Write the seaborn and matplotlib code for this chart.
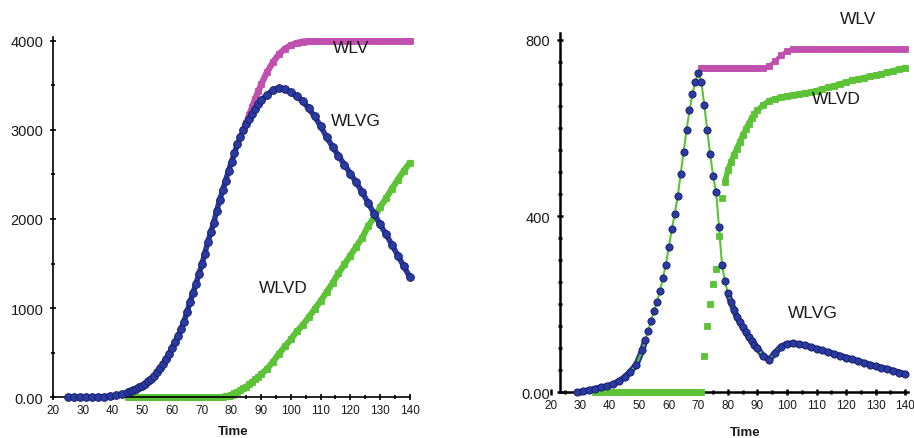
import matplotlib
matplotlib.use("Agg")
import numpy as np
import pandas as pd
import matplotlib.pyplot as plt
import seaborn as sns

nan = np.nan

# ---- left panel: time grid and series ----
t_left = [25, 27, 29, 31, 33, 35, 37, 39, 41, 43, 45,
          46, 47, 48, 49, 50, 51, 52, 53, 54, 55, 56, 57, 58, 59, 60,
          61, 62, 63, 64, 65, 66, 67, 68, 69, 70, 71, 72, 73, 74, 75,
          76, 77, 78, 79, 80, 81, 82, 83, 84, 85, 86, 87, 88, 89, 90,
          92, 94, 96, 98, 100, 102, 104, 106, 108, 110, 112, 114, 116,
          118, 120, 122, 124, 126, 128, 130, 132, 134, 136, 138, 140]

wlvg_left = [0, 0, 0, 0, 2, 3, 5, 12, 22, 35, 55,
             68, 80, 95, 112, 130, 152, 178, 208, 240, 280, 325, 375, 430, 490, 555,
             620, 690, 765, 850, 955, 1065, 1170, 1270, 1380, 1490, 1610, 1740, 1850, 1960, 2090,
             2210, 2320, 2430, 2540, 2640, 2740, 2840, 2920, 3000, 3060, 3120, 3180, 3235, 3290, 3330,
             3395, 3445, 3470, 3455, 3420, 3375, 3320, 3240, 3150, 3040, 2920, 2810, 2710,
             2610, 2510, 2410, 2300, 2180, 2060, 1940, 1830, 1710, 1590, 1470, 1350]

wlvd_left = [nan, nan, nan, nan, nan, nan, nan, nan, nan, nan, 0,
             0, 0, 0, 0, 0, 0, 0, 0, 0, 0, 0, 0, 0, 0, 0,
             0, 0, 0, 0, 0, 0, 0, 0, 0, 0, 0, 0, 0, 0, 0,
             0, 0, 10, 20, 30, 45, 60, 80, 100, 120, 145, 170, 200, 230, 260,
             320, 400, 490, 570, 650, 740, 810, 900, 990, 1080, 1180, 1280, 1390,
             1490, 1590, 1690, 1790, 1920, 2020, 2130, 2230, 2340, 2440, 2540, 2630]

wlv_left = [nan, nan, nan, nan, nan, nan, nan, nan, nan, nan, nan,
            nan, nan, nan, nan, nan, nan, nan, nan, nan, nan, nan, nan, nan, nan, nan,
            nan, nan, nan, nan, nan, nan, nan, nan, nan, nan, nan, nan, nan, nan, nan,
            nan, nan, nan, nan, nan, nan, nan, nan, 3000, 3080, 3170, 3260, 3350, 3430, 3510,
            3650, 3760, 3850, 3910, 3950, 3975, 3990, 3995, 3995, 3995, 3995, 3995, 3995,
            3995, 3995, 3995, 3995, 3995, 3995, 3995, 3995, 3995, 3995, 3995, 3995]

# ---- right panel ----
t_right = [29, 31, 33, 35, 37, 39, 41, 43, 45, 47, 49, 51,
           52, 53, 54, 55, 56, 57, 58, 59, 60, 61, 62, 63, 64, 65, 66, 67, 68, 69, 70,
           71, 72, 73, 74, 75, 76, 77, 78, 79, 80, 81, 82, 83, 84, 85, 86, 87, 88, 89, 90,
           92, 94, 96, 98, 100, 102, 104, 106, 108, 110, 112, 114, 116,
           118, 120, 122, 124, 126, 128, 130, 132, 134, 136, 138, 140]

wlvg_right = [0, 2, 5, 8, 11, 14, 18, 25, 34, 47, 63, 95,
              118, 140, 162, 185, 205, 230, 260, 290, 330, 370, 405, 445, 495, 545, 595, 640, 678, 705, 725,
              705, 652, 595, 540, 492, 455, 375, 290, 252, 225, 205, 188, 172, 160, 148, 137, 126, 116, 108, 100,
              82, 74, 90, 104, 110, 111, 109, 107, 103, 99, 95, 91, 87,
              83, 79, 75, 71, 67, 63, 59, 56, 53, 49, 45, 41]

wlvd_right = [nan, nan, nan, 0, 0, 0, 0, 0, 0, 0, 0, 0,
              0, 0, 0, 0, 0, 0, 0, 0, 0, 0, 0, 0, 0, 0, 0, 0, 0, 0, 0,
              0, 83, 150, 200, 246, 280, 355, 442, 478, 505, 522, 538, 553, 568, 583, 597, 610, 622, 632, 640,
              652, 662, 666, 670, 673, 675, 677, 679, 682, 685, 688, 692, 696,
              700, 704, 708, 711, 714, 717, 720, 723, 726, 730, 733, 737]

wlv_right = [nan, nan, nan, nan, nan, nan, nan, nan, nan, nan, nan, nan,
             nan, nan, nan, nan, nan, nan, nan, nan, nan, nan, nan, nan, nan, nan, nan, nan, nan, nan, nan,
             735, 735, 735, 735, 735, 735, 735, 735, 735, 735, 735, 735, 735, 735, 735, 735, 735, 735, 735, 735,
             735, 740, 752, 765, 774, 779, 780, 780, 780, 780, 780, 780, 780,
             780, 780, 780, 780, 780, 780, 780, 780, 780, 780, 780, 780]

BLUE = "#2a3aa0"
BLUE_EDGE = "#151d62"
MAGENTA = "#c04fae"
GREEN = "#5cc236"


def draw_series(ax, t, v, color, marker, ms, line_color=None, lw=0.0, edge=None, z=2):
    df = pd.DataFrame({"Time": t, "value": v}).dropna()
    sns.lineplot(data=df, x="Time", y="value", ax=ax, estimator=None, sort=False,
                 color=line_color or color, linewidth=lw, marker=marker, markersize=ms,
                 markerfacecolor=color, markeredgecolor=edge or color,
                 markeredgewidth=0.6, clip_on=False, zorder=z)
    return df


def draw_band(ax, df, color, lw, z=2):
    # plain line (no markers) under part of a series, to make the band solid
    sns.lineplot(data=df, x="Time", y="value", ax=ax, estimator=None, sort=False,
                 color=color, linewidth=lw, clip_on=False, zorder=z)


def style_axis(ax, spine_w):
    for side in ["top", "right"]:
        ax.spines[side].set_visible(False)
    for side in ["left", "bottom"]:
        ax.spines[side].set_color("black")
        ax.spines[side].set_linewidth(spine_w)
    ax.tick_params(which="both", bottom=True, left=True, direction="inout",
                   color="black", width=spine_w)
    ax.tick_params(which="major", length=4)
    ax.tick_params(which="minor", length=3)
    ax.tick_params(axis="x", labelsize=8.5, labelcolor="#1a1a1a")
    ax.tick_params(axis="y", labelsize=10.5, pad=5, labelcolor="#1a1a1a")
    ax.set_ylabel("")
    ax.set_xlabel("Time", fontsize=9.5, fontweight="bold", color="#1a1a1a")


sns.set_style("white")
plt.rcParams["font.family"] = ["Liberation Sans", "DejaVu Sans"]

fig = plt.figure(figsize=(9.14, 4.39), dpi=100)
ax1 = fig.add_axes([0.0583, 0.0927, 0.390, 0.8205])
ax2 = fig.add_axes([0.6025, 0.104, 0.391, 0.818])

# left chart
draw_series(ax1, t_left, wlvd_left, GREEN, "s", 5.0, lw=4.5, z=2)
draw_series(ax1, t_left, wlv_left, MAGENTA, "s", 5.0, lw=4.5, z=3)
draw_series(ax1, t_left, wlvg_left, BLUE, "o", 5.6, lw=4.0, edge=BLUE_EDGE, z=4)

ax1.set_xlim(20, 140)
ax1.set_ylim(0, 4040)
style_axis(ax1, 1.2)
ax1.tick_params(axis="x", pad=3)
ax1.set_xticks(range(20, 141, 10))
ax1.set_xticks(range(25, 141, 5), minor=True)
ax1.set_yticks([0, 1000, 2000, 3000, 4000])
ax1.set_yticklabels(["0.00", "1000", "2000", "3000", "4000"])
ax1.set_yticks(range(500, 4001, 1000), minor=True)
ax1.xaxis.set_label_coords(0.504, -0.078)

ax1.text(114, 3920, "WLV", fontsize=12.5, va="center", ha="left", color="#1a1a1a", zorder=6)
ax1.text(113.4, 3110, "WLVG", fontsize=12.5, va="center", ha="left", color="#1a1a1a", zorder=6)
ax1.text(89.2, 1237, "WLVD", fontsize=12.5, va="center", ha="left", color="#1a1a1a", zorder=6)

# right chart
draw_series(ax2, t_right, wlv_right, MAGENTA, "s", 4.0, lw=3.0, z=2)
wlvd_df = draw_series(ax2, t_right, wlvd_right, GREEN, "s", 4.8, lw=0.0, z=3)
draw_band(ax2, wlvd_df[wlvd_df["Time"] <= 71], GREEN, 4.0, z=3)
draw_band(ax2, wlvd_df[wlvd_df["Time"] >= 79], GREEN, 4.0, z=3)
wlvg_df = draw_series(ax2, t_right, wlvg_right, BLUE, "o", 5.2, line_color=GREEN, lw=1.5,
                      edge=BLUE_EDGE, z=5)
draw_band(ax2, wlvg_df[wlvg_df["Time"] <= 52], BLUE, 4.5, z=4)
draw_band(ax2, wlvg_df[wlvg_df["Time"] >= 80], BLUE, 4.5, z=4)

ax2.set_xlim(20, 141)
ax2.set_ylim(0, 815)
style_axis(ax2, 1.8)
ax2.tick_params(axis="x", pad=3)
ax2.spines["left"].set_position(("data", 23))
ax2.spines["bottom"].set_bounds(23, 141)
ax2.set_xticks(range(20, 141, 10))
ax2.set_xticks(range(25, 141, 5), minor=True)
ax2.set_yticks([0, 400, 800])
ax2.set_yticklabels(["0.00", "400", "800"])
ax2.set_yticks([v for v in range(50, 801, 50) if v not in (400, 800)], minor=True)
ax2.xaxis.set_label_coords(0.544, -0.093)

ax2.text(118, 849, "WLV", fontsize=12.5, va="center", ha="left", color="#1a1a1a", zorder=6)
ax2.text(108.5, 668, "WLVD", fontsize=12.5, va="center", ha="left", color="#1a1a1a", zorder=6)
ax2.text(100.4, 182, "WLVG", fontsize=12.5, va="center", ha="left", color="#1a1a1a", zorder=6)

fig.savefig("out.png", dpi=100, facecolor="white")
